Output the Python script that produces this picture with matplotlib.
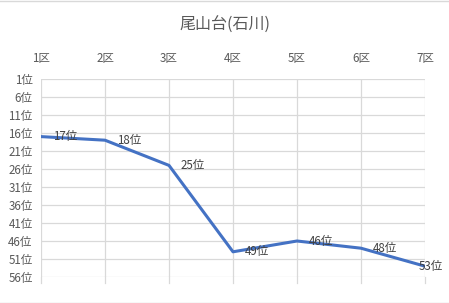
import matplotlib
matplotlib.use("Agg")
import matplotlib.pyplot as plt
from matplotlib.lines import Line2D

plt.rcParams['font.family'] = ['Noto Sans CJK JP', 'DejaVu Sans']

categories = ["1区", "2区", "3区", "4区", "5区", "6区", "7区"]
ranks = [17, 18, 25, 49, 46, 48, 53]
yticks = [1, 6, 11, 16, 21, 26, 31, 36, 41, 46, 51, 56]
ytick_labels = [f"{v}位" for v in yticks]
title = "尾山台(石川)"

fig = plt.figure(figsize=(4.49, 3.03), dpi=100)
ax = fig.add_axes([41/449, 1-277/303, (425-41)/449, (277-79)/303])

x = list(range(len(categories)))
ax.plot(x, ranks, color="#4472C4", linewidth=2.2, zorder=3, solid_capstyle="round")
for i, (xi, r) in enumerate(zip(x, ranks)):
    if i == len(x) - 1:
        ax.annotate(f"{r}位", (xi, r), xytext=(13, 0), textcoords="offset points",
                    ha="right", va="center", fontsize=8.3, color="#404040", zorder=4)
    else:
        ax.annotate(f"{r}位", (xi, r), xytext=(8.5, 0), textcoords="offset points",
                    ha="left", va="center", fontsize=8.3, color="#404040", zorder=4)

ax.set_xlim(0, len(categories)-1)
ax.set_ylim(56, 1)
ax.set_yticks(yticks)
ax.set_yticklabels(ytick_labels)
ax.set_xticks(x)
ax.set_xticklabels(categories)
ax.xaxis.tick_top()
ax.tick_params(axis="x", which="both", length=0, pad=10, labelsize=8.3, colors="#595959")
ax.tick_params(axis="y", length=0, pad=6, labelsize=8.3, colors="#595959")

ax.grid(True, color="#D9D9D9", linewidth=0.9)
ax.set_axisbelow(True)
for s in ax.spines.values():
    s.set_visible(False)

for xi in x:
    ax.plot([xi, xi], [56, 57.7], color="#D9D9D9", linewidth=0.9, clip_on=False, zorder=1)

fig.text(0.5, 1-25/303, title, ha="center", va="center", fontsize=11.5, color="#595959")

for yy in (0.5/303, 1-0.5/303):
    fig.add_artist(Line2D([0, 1], [yy, yy], transform=fig.transFigure,
                          color="#D9D9D9", linewidth=1.0))

fig.savefig("out.png", dpi=100)
